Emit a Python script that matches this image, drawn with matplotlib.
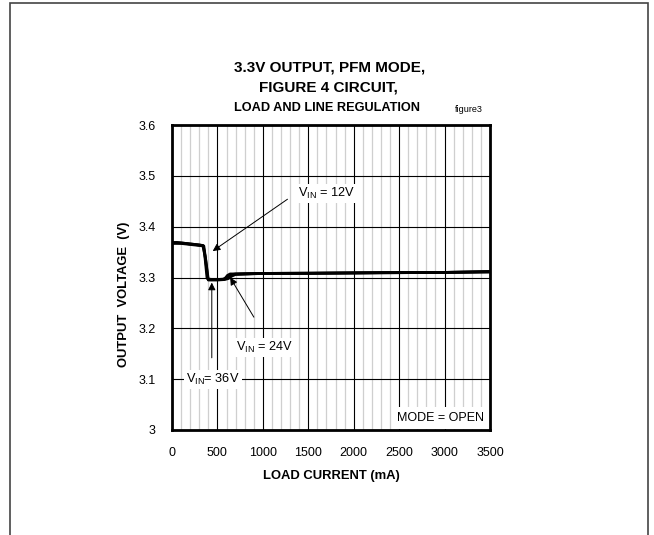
import matplotlib
matplotlib.use("Agg")
import matplotlib.pyplot as plt
from matplotlib.patches import Rectangle
from matplotlib.ticker import MultipleLocator

plt.rcParams['font.family'] = ['Liberation Sans', 'DejaVu Sans']
plt.rcParams['mathtext.fontset'] = 'custom'
plt.rcParams['mathtext.rm'] = 'Liberation Sans'

# data (load current mA, output voltage V)
load_12v = [0, 50, 100, 200, 300, 340, 360, 385, 400, 500, 560, 600, 640, 700, 1000, 1500, 2000, 2500, 3000, 3500]
vout_12v = [3.368, 3.369, 3.368, 3.366, 3.364, 3.363, 3.345, 3.300, 3.296, 3.296, 3.296, 3.300, 3.305, 3.307, 3.308, 3.308, 3.309, 3.310, 3.310, 3.311]
load_24v = [0, 100, 200, 300, 345, 370, 395, 450, 500, 580, 610, 640, 700, 1000, 2000, 3000, 3500]
vout_24v = [3.367, 3.367, 3.365, 3.363, 3.362, 3.335, 3.297, 3.296, 3.296, 3.297, 3.304, 3.307, 3.307, 3.308, 3.309, 3.310, 3.311]
load_36v = [0, 100, 200, 300, 350, 375, 400, 500, 580, 620, 660, 700, 1000, 2000, 3000, 3500]
vout_36v = [3.369, 3.368, 3.366, 3.364, 3.362, 3.330, 3.295, 3.295, 3.296, 3.298, 3.303, 3.306, 3.308, 3.309, 3.310, 3.312]

x_ticks = [0, 500, 1000, 1500, 2000, 2500, 3000, 3500]
y_ticks = [3.0, 3.1, 3.2, 3.3, 3.4, 3.5, 3.6]
y_tick_labels = ['3', '3.1', '3.2', '3.3', '3.4', '3.5', '3.6']

W, H = 654, 535
fig = plt.figure(figsize=(W / 100, H / 100), dpi=100)
fig.patch.set_facecolor('white')

# outer frame
fig.patches.append(Rectangle((10 / W, -0.1), 638 / W, 1.1 - 3 / H, transform=fig.transFigure,
                             fill=False, edgecolor='#444444', linewidth=1.2))

ax = fig.add_axes([172 / W, 1 - 430 / H, 318 / W, 305 / H])
ax.set_xlim(0, 3500)
ax.set_ylim(3.0, 3.6)

ax.xaxis.set_minor_locator(MultipleLocator(100))
ax.set_xticks(x_ticks)
ax.set_xticklabels([str(v) for v in x_ticks])
ax.set_yticks(y_ticks)
ax.set_yticklabels(y_tick_labels)
ax.grid(which='minor', axis='x', color='#cfcfcf', linewidth=0.9)
ax.grid(which='major', axis='both', color='black', linewidth=0.8)
ax.set_axisbelow(True)
ax.tick_params(which='both', length=0, labelsize=9, pad=12)
for s in ax.spines.values():
    s.set_linewidth(2.0)
    s.set_color('black')

for xs, ys in [(load_12v, vout_12v), (load_24v, vout_24v), (load_36v, vout_36v)]:
    ax.plot(xs, ys, color='black', linewidth=2.0, solid_joinstyle='round', zorder=3)

ax.set_xlabel('LOAD CURRENT (mA)', fontsize=9.4, fontweight='bold', labelpad=8)
ax.set_ylabel('OUTPUT  VOLTAGE  (V)', fontsize=9.4, fontweight='bold')
ax.yaxis.set_label_coords(-0.132, 0.445)

box = dict(boxstyle='square,pad=0.15', facecolor='white', edgecolor='none')
arrow = dict(arrowstyle='-|>', color='black', lw=0.7, mutation_scale=11, shrinkA=0, shrinkB=0)

ax.annotate('', xy=(448, 3.352), xytext=(1271, 3.454), arrowprops=arrow, zorder=5)
ax.text(1704, 3.466, r'V$_{\mathregular{IN}}$ = 12V', ha='center', va='center', fontsize=9.2, bbox=box, zorder=6)

ax.annotate('', xy=(640, 3.300), xytext=(901, 3.222), arrowprops=arrow, zorder=5)
ax.text(1023, 3.163, r'V$_{\mathregular{IN}}$ = 24V', ha='center', va='center', fontsize=9.2, bbox=box, zorder=6)

ax.annotate('', xy=(438, 3.290), xytext=(438, 3.142), arrowprops=arrow, zorder=5)
ax.text(450, 3.100, r'V$_{\mathregular{IN}}$= 36V', ha='center', va='center', fontsize=9.2, bbox=box, zorder=6)

ax.text(3430, 3.023, 'MODE = OPEN', ha='right', va='center', fontsize=9,
        bbox=dict(boxstyle='square,pad=0.4', facecolor='white', edgecolor='none'), zorder=6)

fig.text(330 / W, 1 - 68 / H, '3.3V OUTPUT, PFM MODE,', ha='center', va='center', fontsize=11, fontweight='bold')
fig.text(328 / W, 1 - 88 / H, 'FIGURE 4 CIRCUIT,', ha='center', va='center', fontsize=11, fontweight='bold')
fig.text(327 / W, 1 - 108 / H, 'LOAD AND LINE REGULATION', ha='center', va='center', fontsize=9.2, fontweight='bold')
fig.text(483 / W, 1 - 110 / H, 'figure3', ha='right', va='center', fontsize=6.5)

fig.savefig('out.png', dpi=100, facecolor='white')
